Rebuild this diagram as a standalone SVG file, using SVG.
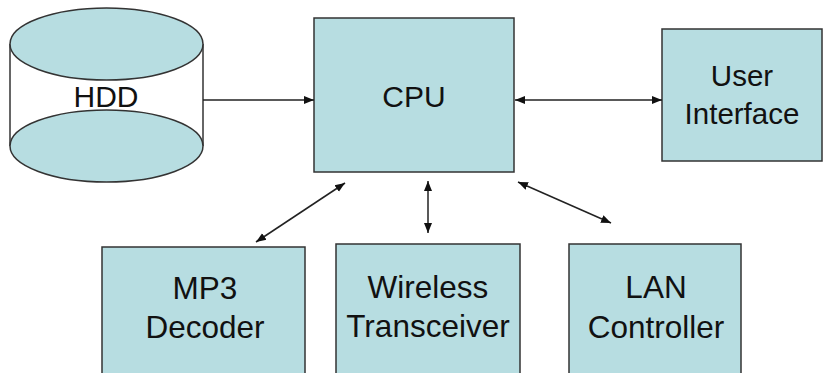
<svg xmlns="http://www.w3.org/2000/svg" width="836" height="373" viewBox="0 0 836 373">
<style>
.box{fill:#b7dde1;stroke:#333;stroke-width:1.5}
.lbl{font-family:"Liberation Sans",Arial,sans-serif;font-size:30px;fill:#111;text-anchor:middle}
.big{font-size:31.5px}
.con{stroke:#222;stroke-width:1.5;fill:none}
</style>
<defs>
<marker id="ah" viewBox="0 0 10 10" refX="10" refY="5" markerWidth="10" markerHeight="10" markerUnits="userSpaceOnUse" orient="auto-start-reverse">
<path d="M0,1 L10,5 L0,9 Z" fill="#111"/>
</marker>
</defs>
<rect width="836" height="373" fill="#fff"/>
<g id="hdd">
<rect x="10" y="44" width="193" height="102" fill="#fff" stroke="none"/>
<line x1="10" y1="44" x2="10" y2="146" stroke="#333" stroke-width="1.5"/>
<line x1="203" y1="44" x2="203" y2="146" stroke="#333" stroke-width="1.5"/>
<ellipse class="box" cx="106.5" cy="146" rx="96.5" ry="36"/>
<ellipse class="box" cx="106.5" cy="44" rx="96.5" ry="36"/>
<text class="lbl" x="106" y="107">HDD</text>
</g>
<g id="cpu">
<rect class="box" x="314" y="18" width="200" height="154"/>
<text class="lbl" x="414" y="107">CPU</text>
</g>
<g id="ui">
<rect class="box" x="662" y="29" width="160" height="132"/>
<text class="lbl" x="742" y="86" style="font-size:29.5px">User</text>
<text class="lbl" x="742" y="124" style="font-size:29.5px">Interface</text>
</g>
<g id="mp3">
<rect class="box" x="102" y="247" width="203" height="140"/>
<text class="lbl big" x="205" y="299">MP3</text>
<text class="lbl big" x="205" y="338">Decoder</text>
</g>
<g id="wireless">
<rect class="box" x="336" y="244" width="184" height="140"/>
<text class="lbl big" x="428" y="298">Wireless</text>
<text class="lbl big" x="428" y="337">Transceiver</text>
</g>
<g id="lan">
<rect class="box" x="569" y="244" width="172" height="140"/>
<text class="lbl big" x="656" y="298">LAN</text>
<text class="lbl big" x="656" y="338">Controller</text>
</g>
<g id="connectors">
<line class="con" x1="203" y1="100" x2="314" y2="100" marker-end="url(#ah)"/>
<line class="con" x1="515" y1="100" x2="662" y2="100" marker-start="url(#ah)" marker-end="url(#ah)"/>
<line class="con" x1="345" y1="183" x2="256" y2="242" marker-start="url(#ah)" marker-end="url(#ah)"/>
<line class="con" x1="428" y1="181" x2="428" y2="233" marker-start="url(#ah)" marker-end="url(#ah)"/>
<line class="con" x1="518" y1="182" x2="611" y2="223" marker-start="url(#ah)" marker-end="url(#ah)"/>
</g>
</svg>
